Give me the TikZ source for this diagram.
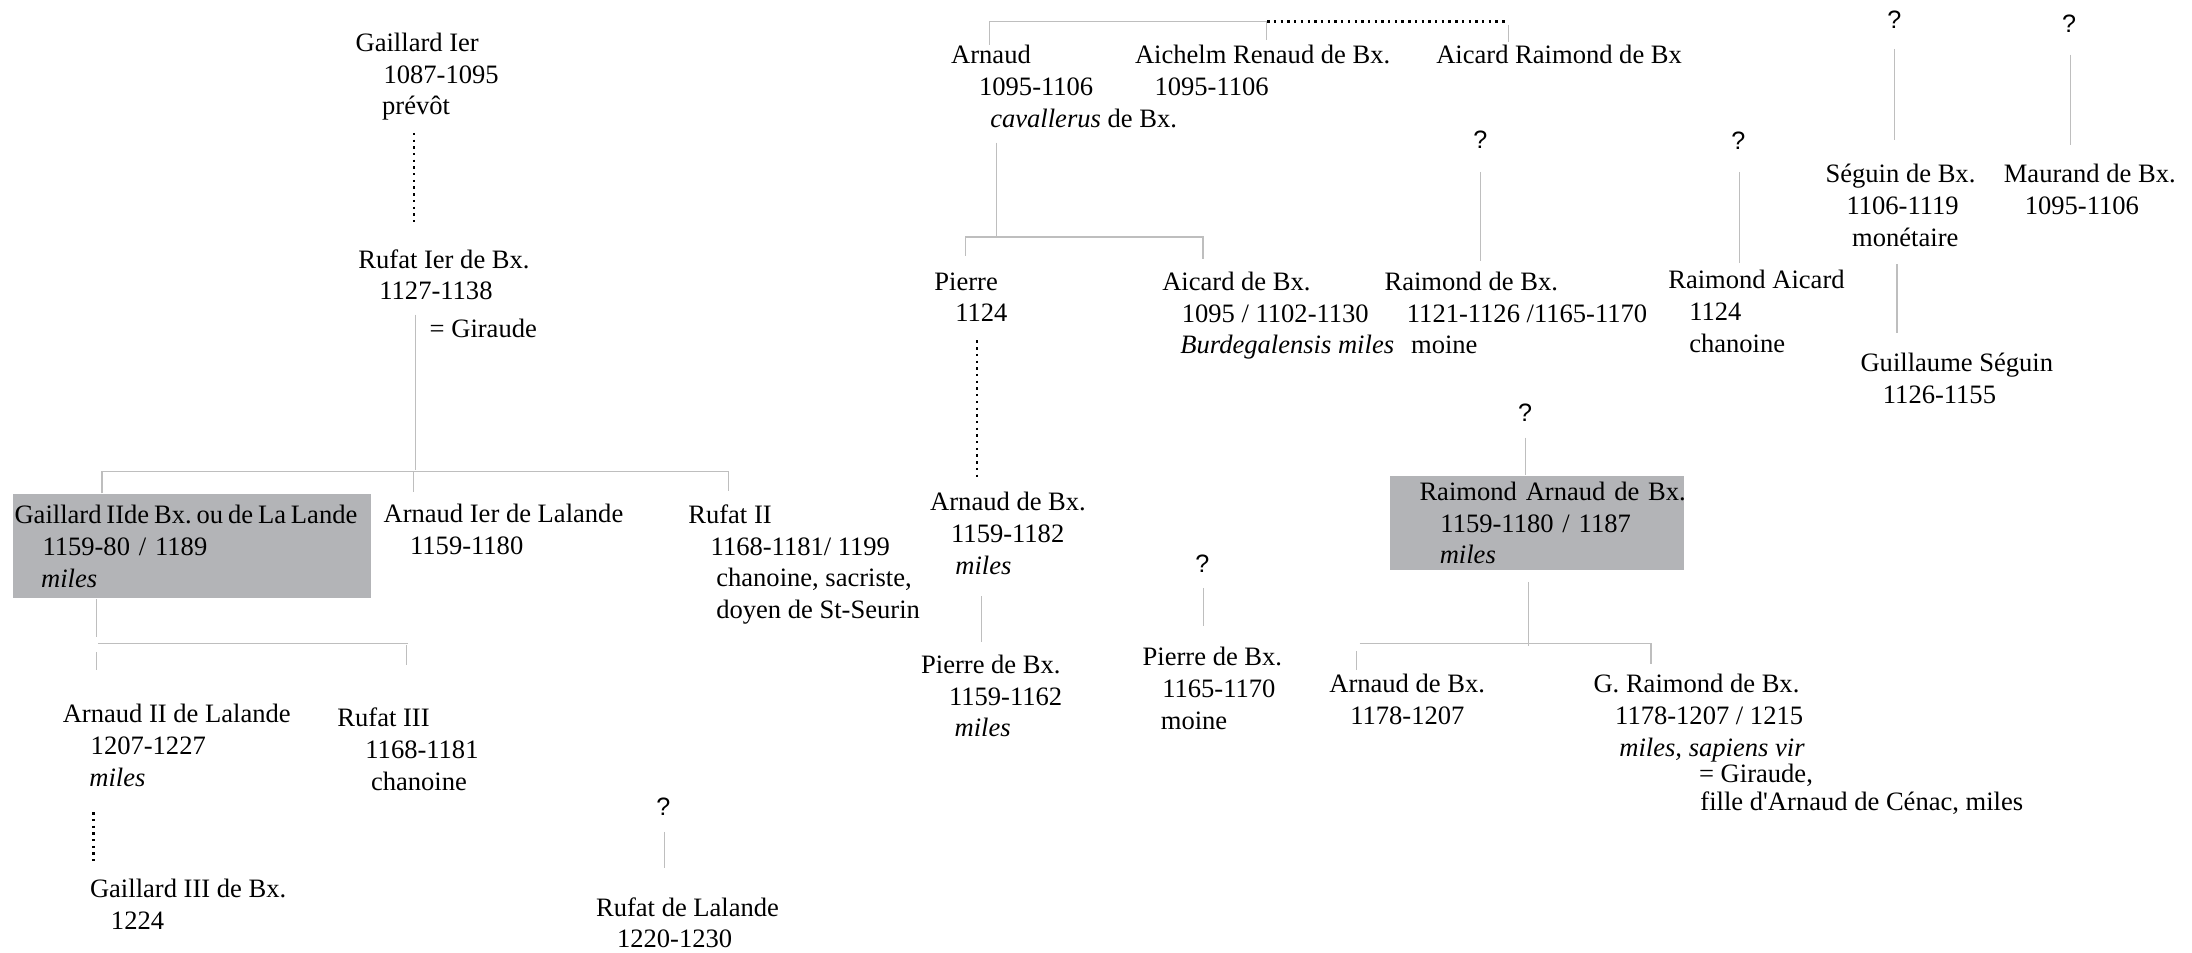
\documentclass[tikz,border=0pt]{standalone}
\usepackage{fontspec}
\setmainfont{Liberation Serif}
\setsansfont{Liberation Sans}
\usepackage{tikz}
\definecolor{boxgray}{RGB}{179,180,183}
\definecolor{linegray}{RGB}{190,190,190}
\setlength{\unitlength}{0.5pt}
\setlength{\parindent}{0pt}
\frenchspacing
\newcommand{\ind}[1]{\hspace*{#1\unitlength}}

\begin{document}
\begin{tikzpicture}[
    x=0.5pt, y=-0.5pt,
    every node/.style={font=\fontsize{9.5}{11.4}\selectfont},
    person/.style={anchor=north west, inner sep=0pt, align=left},
    shaded/.style={person, fill=boxgray, inner xsep=0pt},
    qmark/.style={inner sep=0pt, font=\sffamily\fontsize{9}{11}\selectfont},
    link/.style={draw=linegray, line width=0.4pt},
    dots/.style={draw=black, line width=0.85pt, dash pattern=on 0.85pt off 1.55pt}
  ]
    \useasboundingbox (0,0) rectangle (1568,681);

    % Gaillard / Rufat de Lalande
    \node[person] (g1) at (254,23) {Gaillard Ier\\\ind{20}1087-1095\\\ind{19}prévôt};
    \node[person] (r1) at (256,178) {Rufat Ier de Bx.\\\ind{15}1127-1138\\[2pt]\ind{51}= Giraude};
    \node[shaded, text width=128pt, inner ysep=3.9pt] (g2) at (9,353) {\mbox{\spaceskip=1.75pt\relax\ind{1}Gaillard IIde Bx. ou de La Lande}\\\mbox{\ind{21}1159-80 / 1189}\\\ind{20}\textit{miles}};
    \node[person] (a1) at (274,360) {Arnaud Ier de Lalande\\\ind{19}1159-1180};
    \node[person] (rf2) at (492,360.5) {Rufat II\\\ind{16}1168-1181/ 1199\\\ind{20}chanoine, sacriste,\\\ind{20}doyen de St-Seurin};
    \node[person] (a2) at (44.5,503.5) {Arnaud II de Lalande\\\ind{20}1207-1227\\\ind{19}\textit{miles}};
    \node[person] (rf3) at (241,506) {Rufat III\\\ind{20}1168-1181\\\ind{24}chanoine};
    \node[person] (g3) at (64,628.5) {Gaillard III de Bx.\\\ind{15}1224};
    \node[qmark] (q1) at (474.5,577) {?};
    \node[person] (rdl) at (426,641.5) {Rufat de Lalande\\\ind{15}1220-1230};

    \draw[dots] (g1.north west) ++(42,72) -- ++(0,66);
    \draw[link] (r1.north west) ++(41,47) -- ++(0,111);
    \draw[link] (g2.north west) ++(64,0) -- ++(0,-16) -- ++(448,0) -- ++(0,14);
    \draw[link] (a1.north west) ++(22,-23) -- ++(0,15);
    \draw[link] (g2.south west) ++(60,0) -- ++(0,27);
    \draw[link] (a2.north west) ++(25.5,-43) -- ++(222,0);
    \draw[link] (a2.north west) ++(24.5,-37) -- ++(0,13);
    \draw[link] (rf3.north west) ++(49.5,-44.5) -- ++(0,14);
    \draw[dots] (a2.north west) ++(22.5,77.5) -- ++(0,35);
    \draw[link] (q1.center) ++(1,18) -- ++(0,26);

    % Arnaud / Aichelm / Aicard
    \node[person] (ar) at (680,32) {Arnaud\\\ind{20}1095-1106\\\ind{28}\textit{cavallerus} de Bx.};
    \node[person] (ai) at (811.5,32) {Aichelm Renaud de Bx.\\\ind{14}1095-1106};
    \node[person] (ac) at (1027,32) {Aicard Raimond de Bx};
    \node[person] (pr) at (668,194.5) {Pierre\\\ind{15}1124};
    \node[person] (ad) at (831,194) {Aicard de Bx.\\\ind{14}1095 / 1102-1130\\\ind{13}\textit{Burdegalensis miles}};
    \node[person] (ab) at (665,351.5) {Arnaud de Bx.\\\ind{15}1159-1182\\\ind{18}\textit{miles}};
    \node[person] (pb) at (658.5,468) {Pierre de Bx.\\\ind{20}1159-1162\\\ind{24}\textit{miles}};
    \node[qmark] (q7) at (860,403) {?};
    \node[person] (pm) at (817,462.5) {Pierre de Bx.\\\ind{14}1165-1170\\\ind{13}moine};

    \draw[link] (ar.north west) ++(28,0) -- ++(0,-16.5) -- ++(198,0) -- ++(0,13);
    \draw[dots] (ai.north west) ++(95,-16.5) -- ++(172,0);
    \draw[link] (ac.north west) ++(52,-14) -- ++(0,12);
    \draw[link] (ar.north west) ++(32.5,70) -- ++(0,67);
    \draw[link] (pr.north west) ++(22.5,-11.5) -- ++(0,-13.5) -- ++(170,0) -- ++(0,15.5);
    \draw[dots] (pr.north west) ++(31,49) -- ++(0,98);
    \draw[link] (ab.north west) ++(37,75) -- ++(0,32.5);
    \draw[link] (q7.center) ++(1,17.5) -- ++(0,27.5);

    % Raimond / Seguin / Maurand
    \node[qmark] (q2) at (1059,100) {?};
    \node[person] (rd) at (990,194) {Raimond de Bx.\\\ind{16}1121-1126 /1165-1170\\\ind{19}moine};
    \node[qmark] (q3) at (1243.5,100.5) {?};
    \node[person] (rac) at (1193,193) {Raimond Aicard\\\ind{15}1124\\\ind{15}chanoine};
    \node[qmark] (q4) at (1355,14) {?};
    \node[person] (sg) at (1305.5,117) {Séguin de Bx.\\\ind{15}1106-1119\\\ind{19}monétaire};
    \node[person] (gs) at (1330.5,252) {Guillaume Séguin\\\ind{16}1126-1155};
    \node[qmark] (q5) at (1480,17) {?};
    \node[person] (md) at (1433,117) {Maurand de Bx.\\\ind{15}1095-1106};
    \node[qmark] (q6) at (1091,295) {?};
    \node[shaded, text width=105pt, inner ysep=2.1pt] (ra) at (994,340) {\mbox{\ind{21}Raimond Arnaud de Bx.}\\\mbox{\ind{36}1159-1180 / 1187}\\\ind{35.5}\textit{miles}};
    \node[person] (ar2) at (950.5,482) {Arnaud de Bx.\\\ind{15}1178-1207};
    \node[person] (gr) at (1139.5,482) {G. Raimond de Bx.\\\ind{15.5}1178-1207 / 1215\\\ind{18.5}\textit{miles, sapiens vir}\\[-2pt]\ind{75.5}= Giraude,\\[-1.5pt]\ind{76.5}fille d\textquotesingle Arnaud de Cénac, miles};

    \draw[link] (q2.center) ++(0,23) -- ++(0,64);
    \draw[link] (q3.center) ++(0.5,22.5) -- ++(0,65);
    \draw[link] (q4.center) ++(0,21) -- ++(0,65);
    \draw[link] (sg.north west) ++(51.5,72) -- ++(0,49);
    \draw[link] (q5.center) ++(1,22) -- ++(0,64.5);
    \draw[link] (q6.center) ++(0,18) -- (q6.center |- ra.north);
    \draw[link] (ra.south west) ++(99.5,8) -- ++(0,46);
    \draw[link] (ar2.north west) ++(22,-21.5) -- ++(209,0);
    \draw[link] (ar2.north west) ++(20,-16) -- ++(0,13.5);
    \draw[link] (gr.north west) ++(41.5,-22) -- ++(0,15);
  \end{tikzpicture}
\end{document}
